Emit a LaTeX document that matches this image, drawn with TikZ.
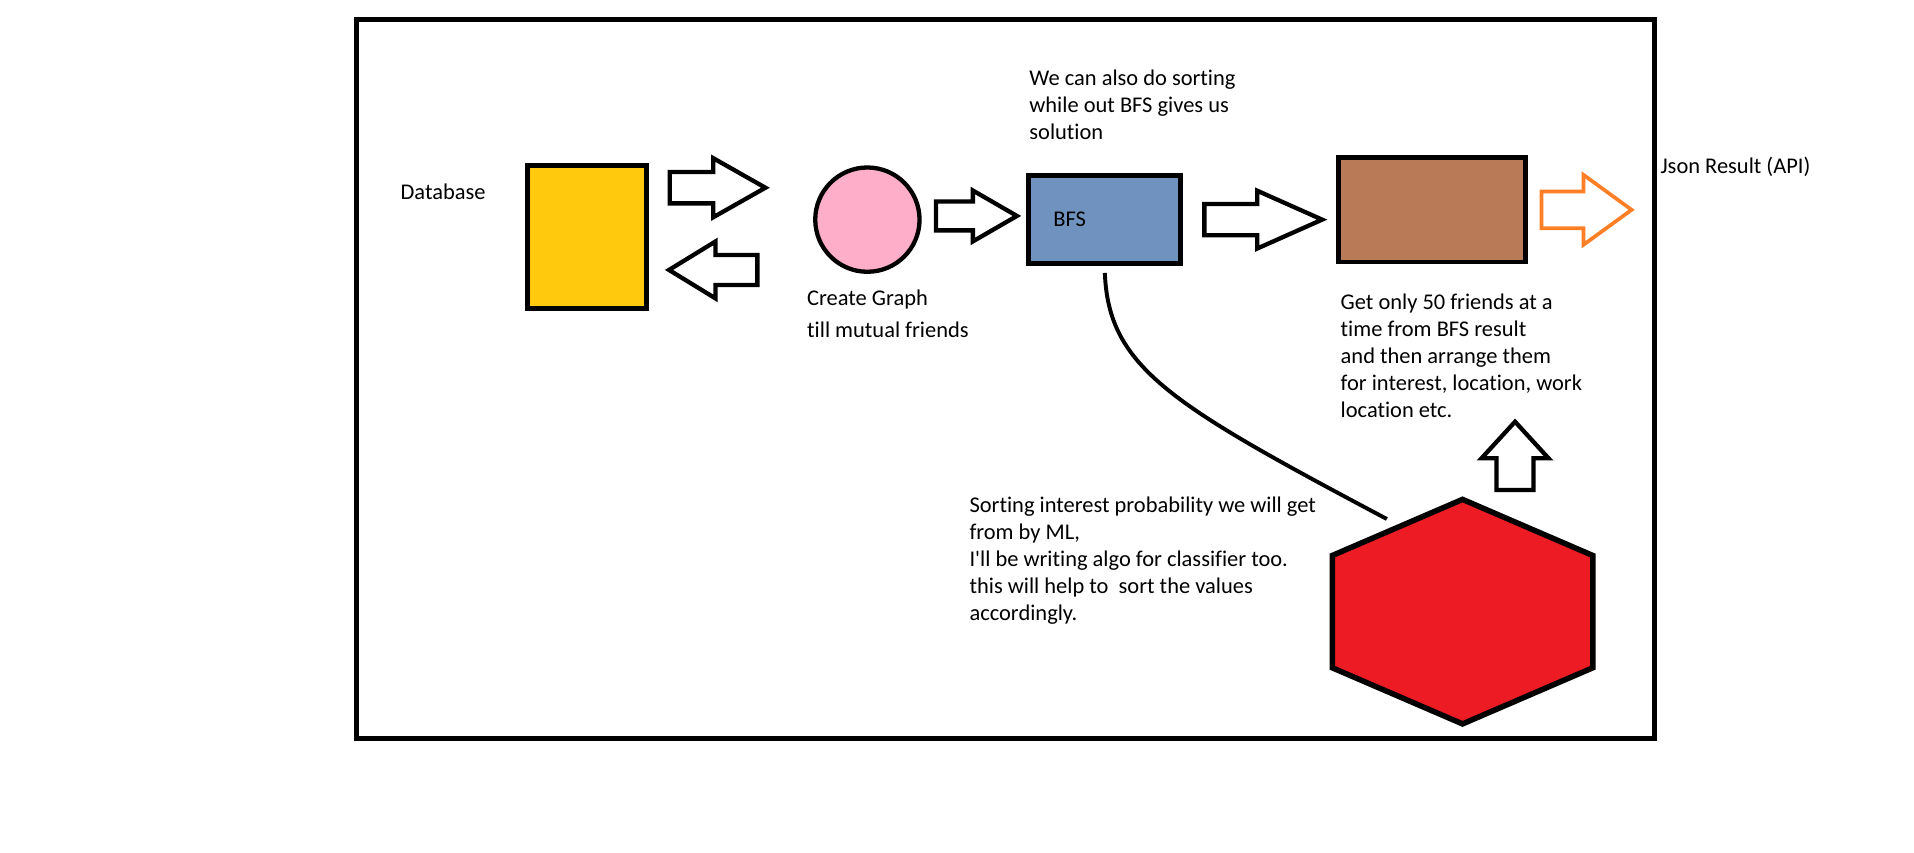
\documentclass[tikz,border=0pt]{standalone}
\usepackage{fontspec}
\setmainfont{Carlito}[Ligatures={TeX,NoCommon}]
\usetikzlibrary{shapes.arrows,shapes.geometric}

\definecolor{dbyellow}{HTML}{FFC90E}
\definecolor{graphpink}{HTML}{FFAEC9}
\definecolor{bfsblue}{HTML}{7092BE}
\definecolor{resultbrown}{HTML}{B97A57}
\definecolor{mlred}{HTML}{ED1C24}
\definecolor{apiorange}{HTML}{FF7F27}

\tikzset{
  box/.style={draw, line width=4pt, inner sep=0pt},
  hollow/.style={single arrow, draw, fill=white, line width=3.5pt, inner xsep=0pt, outer sep=0pt, anchor=tip},
  note/.style={align=left, inner sep=0pt, font=\fontsize{18.3}{22}\selectfont},
}

\begin{document}
\begin{tikzpicture}[x=0.995pt, y=-1pt]
  \useasboundingbox (0,0) rectangle (1567.8,694.4);
  % rammi
  \draw [line width=4pt] (292,16) rectangle (1355,602);

  % kassar
  \node [box, fill=dbyellow, minimum width=97pt, minimum height=116.5pt] (db) at (480.5,193.2) {};
  \node [circle, draw, line width=3.5pt, fill=graphpink, minimum size=85pt, inner sep=0pt] (graph) at (710.5,179) {};
  \node [box, fill=bfsblue, minimum width=124pt, minimum height=71.5pt, text width=84pt, inner xsep=20pt, align=left, font=\fontsize{18.3}{22}\selectfont] (bfs) at (905,178.7) {BFS};
  \node [box, fill=resultbrown, minimum width=152pt, minimum height=85.5pt] (result) at (1173,170.8) {};
  \node [regular polygon, regular polygon sides=6, regular polygon rotate=30, minimum size=183pt, inner sep=0pt, draw, line width=4.5pt, fill=mlred, xscale=1.34] (ml) at (1198,498.5) {};

  % örvar
  \node [hollow, inner ysep=11pt, minimum height=78pt, single arrow head extend=11.3pt, single arrow tip angle=59] (dbout) at (627,153) {};
  \node [hollow, rotate=180, inner ysep=10.5pt, minimum height=72pt, single arrow head extend=11pt, single arrow tip angle=63] (dbin) at (548,220) {};
  \node [hollow, inner ysep=10pt, minimum height=66pt, single arrow head extend=9pt, single arrow tip angle=60] (tobfs) at (833,176) {};
  \node [hollow, inner ysep=11pt, minimum height=96pt, single arrow head extend=10.8pt, single arrow tip angle=48] (toresult) at (1083,179) {};
  \node [hollow, draw=apiorange, line width=3pt, inner ysep=13.5pt, minimum height=73.4pt, single arrow head extend=13.5pt, single arrow tip angle=72] (toapi) at (1336.5,171) {};
  \node [hollow, rotate=90, inner ysep=13.3pt, minimum height=55.7pt, single arrow head extend=12.2pt, single arrow tip angle=85] (mlup) at (1241,343.7) {};

  % lína
  \coordinate (mlin) at (1136,423);
  \draw [line width=3.2pt] ([yshift=-6pt]bfs.south) .. controls (908,300) and (960,330) .. (mlin);

  % texti
  \node [note, anchor=west] (dbtext) at (328,156) {Database};
  \node [note, anchor=north west] (graphtext) at (661,236) {Create Graph\\[4pt]till mutual friends};
  \node [note, anchor=north west] (bfstext) at (843,57) {We can also do sorting\\while out BFS gives us\\solution};
  \node [note, anchor=west] (apitext) at (1360,136) {Json Result (API)};
  \node [note, anchor=north west] (resulttext) at (1098,239) {Get only 50 friends at a\\time from BFS result\\and then arrange them\\for interest, location, work\\location etc.};
  \node [note, anchor=north west] (mltext) at (794,405) {Sorting interest probability we will get\\from by ML,\\I\textquotesingle ll be writing algo for classifier too.\\this will help to\ \ sort the values\\accordingly.};
\end{tikzpicture}
\end{document}
